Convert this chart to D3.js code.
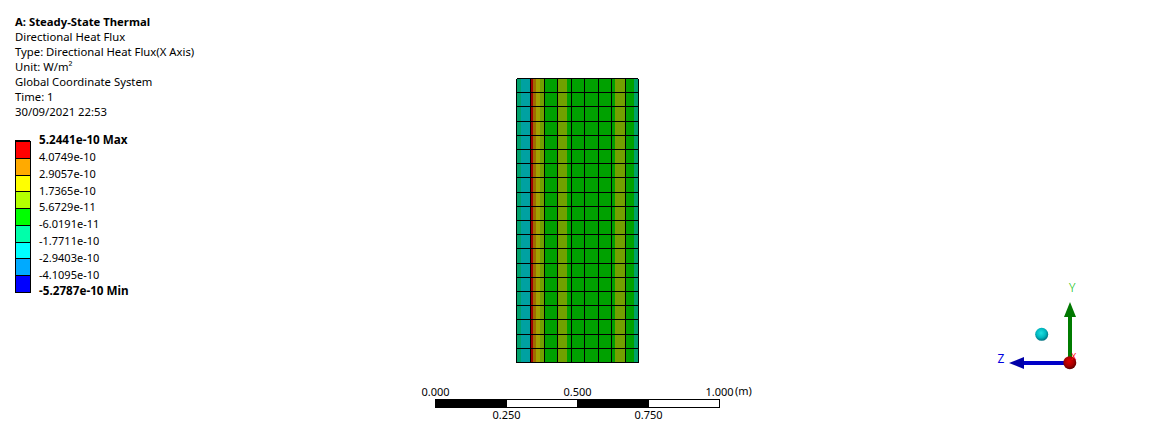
<!DOCTYPE html>
<html>
<head>
<meta charset="utf-8">
<script src="https://cdn.jsdelivr.net/npm/d3@7"></script>
<style>
  html, body { margin: 0; background: #fff; }
  svg { display: block; }
  text { font-family: "Noto Sans", sans-serif; font-size: 11px; fill: #000; }
</style>
</head>
<body>
<svg id="chart" width="1155" height="439"></svg>
<script>
const titleLines = ['A: Steady-State Thermal', 'Directional Heat Flux', 'Type: Directional Heat Flux(X Axis)', 'Unit: W/m\u00b2', 'Global Coordinate System', 'Time: 1', '30/09/2021 22:53'];

// legend, top to bottom
const legendLabels = ['5.2441e-10 Max', '4.0749e-10', '2.9057e-10', '1.7365e-10', '5.6729e-11', '-6.0191e-11', '-1.7711e-10', '-2.9403e-10', '-4.1095e-10', '-5.2787e-10 Min'];
const legendLimits = [5.2441e-10, 4.0749e-10, 2.9057e-10, 1.7365e-10, 5.6729e-11, -6.0191e-11, -1.7711e-10, -2.9403e-10, -4.1095e-10, -5.2787e-10];
const legendColors = ['#ff0000', '#ffaa00', '#ffff00', '#b4ff00', '#00ff00', '#00ffaa', '#00ffff', '#00aaff', '#0000ff'];

// flux strips across the plate, position in metres along the scale bar
const stripEdges = [0.287, 0.304, 0.338, 0.346, 0.355, 0.368, 0.3863, 0.432, 0.4637, 0.634, 0.669, 0.7, 0.7165];
const stripFlux = [-1.2e-10, -2.35e-10, 4.6e-10, 3.5e-10, 2.3e-10, 1.15e-10, 0, 1.15e-10, 0, 1.15e-10, 0, -1.2e-10];

// mesh lines
const meshX = [0.287, 0.338, 0.3863, 0.4306, 0.48, 0.5257, 0.575, 0.6232, 0.6715, 0.7165];
const meshRows = 20;

const scaleTop = [0, 0.5, 1];
const scaleBottom = [0.25, 0.75];
const scaleSteps = [0, 0.25, 0.5, 0.75, 1];

const svg = d3.select('#chart');
const metres = d3.scaleLinear().domain([0, 1]).range([435, 719]);
const rowY = d3.scaleLinear().domain([0, meshRows]).range([78.5, 362.5]);

// the model is lit, so contour colours come out darker than the legend
const fluxColor = d3.scaleThreshold()
  .domain(legendLimits.slice(1, -1).reverse())
  .range(legendColors.slice().reverse());
const lit = v => {
  const c = d3.rgb(fluxColor(v));
  return d3.rgb(c.r * 0.63, c.g * 0.63, c.b * 0.63).formatHex();
};

// header
svg.append('g').selectAll('text')
  .data(titleLines)
  .enter()
  .append('text')
  .attr('x', 15)
  .attr('y', (d, i) => 26 + i * 15)
  .style('font-size', '11.3px')
  .style('font-weight', (d, i) => i === 0 ? 'bold' : null)
  .text(d => d);

// legend
const legendY = d3.scaleLinear().domain([0, legendColors.length]).range([141.5, 292.5]);
const legend = svg.append('g').attr('shape-rendering', 'crispEdges');
legend.selectAll('rect.bin')
  .data(legendColors)
  .enter()
  .append('rect')
  .attr('class', 'bin')
  .attr('x', 15.5)
  .attr('y', (d, i) => legendY(i))
  .attr('width', 15)
  .attr('height', legendY(1) - legendY(0))
  .attr('fill', d => d)
  .attr('stroke', '#000')
  .attr('stroke-width', 1);
legend.append('rect').attr('x', 15).attr('y', 139.5).attr('width', 15).attr('height', 2.5).attr('fill', '#000');
legend.selectAll('text')
  .data(legendLabels)
  .enter()
  .append('text')
  .attr('x', 39)
  .attr('y', (d, i) => legendY(i) + 2.8)
  .style('font-size', (d, i) => i === 0 || i === legendLabels.length - 1 ? '11.7px' : '11px')
  .style('font-weight', (d, i) => i === 0 || i === legendLabels.length - 1 ? 'bold' : null)
  .text(d => d);

// plate
const plate = svg.append('g').attr('shape-rendering', 'crispEdges');
plate.selectAll('rect')
  .data(stripFlux)
  .enter()
  .append('rect')
  .attr('x', (d, i) => metres(stripEdges[i]))
  .attr('y', rowY(0))
  .attr('width', (d, i) => metres(stripEdges[i + 1]) - metres(stripEdges[i]))
  .attr('height', rowY(meshRows) - rowY(0))
  .attr('fill', d => lit(d));
plate.selectAll('line.col')
  .data(meshX)
  .enter()
  .append('line')
  .attr('class', 'col')
  .attr('x1', d => metres(d))
  .attr('x2', d => metres(d))
  .attr('y1', rowY(0))
  .attr('y2', rowY(meshRows))
  .attr('stroke', '#000')
  .attr('stroke-width', 1);
plate.selectAll('line.row')
  .data(d3.range(meshRows + 1))
  .enter()
  .append('line')
  .attr('class', 'row')
  .attr('x1', metres(meshX[0]))
  .attr('x2', metres(meshX[meshX.length - 1]))
  .attr('y1', d => rowY(d))
  .attr('y2', d => rowY(d))
  .attr('stroke', '#000')
  .attr('stroke-width', 1);

// scale bar
const bar = svg.append('g');
bar.selectAll('rect')
  .data(scaleSteps.slice(0, -1))
  .enter()
  .append('rect')
  .attr('x', d => metres(d))
  .attr('y', 399.5)
  .attr('width', (d, i) => metres(scaleSteps[i + 1]) - metres(d))
  .attr('height', 8)
  .attr('fill', (d, i) => i % 2 ? '#fff' : '#000')
  .attr('stroke', '#000')
  .attr('shape-rendering', 'crispEdges');
const fmt = d3.format('.3f');
const topAxis = bar.append('g').attr('transform', 'translate(0,399)')
  .call(d3.axisTop(metres).tickValues(scaleTop).tickFormat(fmt).tickSize(0).tickPadding(3));
const bottomAxis = bar.append('g').attr('transform', 'translate(0,408)')
  .call(d3.axisBottom(metres).tickValues(scaleBottom).tickFormat(fmt).tickSize(0).tickPadding(3));
[topAxis, bottomAxis].forEach(a => {
  a.select('.domain').remove();
  a.attr('font-family', null).attr('font-size', null);
});
bar.append('text').attr('x', metres(1) + 16).attr('y', 395).text('(m)');

// triad
const defs = svg.append('defs');
const ball = (id, light, mid, dark) => {
  const g = defs.append('radialGradient').attr('id', id).attr('cx', '45%').attr('cy', '40%').attr('r', '65%');
  g.append('stop').attr('offset', '0%').attr('stop-color', light);
  g.append('stop').attr('offset', '55%').attr('stop-color', mid);
  g.append('stop').attr('offset', '100%').attr('stop-color', dark);
};
ball('ballCyan', '#20e0e0', '#00b8c0', '#006070');
ball('ballRed', '#e00000', '#a80000', '#500000');

const triad = svg.append('g');
triad.append('rect').attr('x', 1068).attr('y', 316).attr('width', 4).attr('height', 44).attr('fill', '#007c00');
triad.append('path').attr('d', 'M1070,302 L1076,317 L1064,317 Z').attr('fill', '#007800');
triad.append('rect').attr('x', 1023).attr('y', 361).attr('width', 44).attr('height', 4).attr('fill', '#0000c8');
triad.append('path').attr('d', 'M1009,363 L1024,357 L1024,369 Z').attr('fill', '#0000a8');
triad.append('circle').attr('cx', 1069.8).attr('cy', 362.7).attr('r', 6.5).attr('fill', 'url(#ballRed)');
triad.append('circle').attr('cx', 1041.7).attr('cy', 334.3).attr('r', 6.5).attr('fill', 'url(#ballCyan)');
triad.append('text').attr('x', 1069).attr('y', 292).style('fill', '#00c000').style('font-size', '12px').style('font-weight', 300).text('Y');
triad.append('text').attr('x', 997.5).attr('y', 363).style('fill', '#0000e0').style('font-size', '12px').text('Z');
triad.append('text').attr('x', 1071).attr('y', 360).style('fill', '#ff0000').style('font-size', '9px').text('X');
</script>
</body>
</html>
